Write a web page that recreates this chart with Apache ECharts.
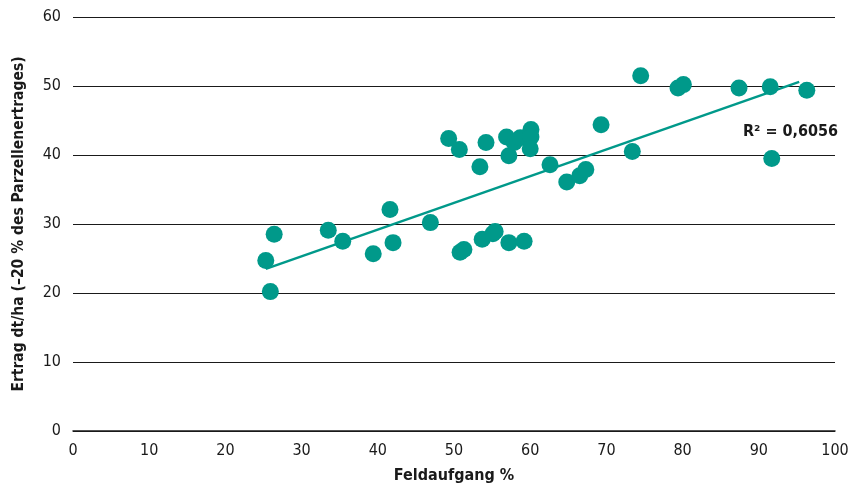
<!DOCTYPE html>
<html><head><meta charset="utf-8">
<script src="https://cdn.jsdelivr.net/npm/echarts@6/dist/echarts.min.js"></script>
<style>html,body{margin:0;padding:0;background:#fff}#c{width:855px;height:489px}</style>
</head><body><div id="c"></div>
<script>
const feldaufgang = [25.3,25.9,26.4,33.5,35.4,39.4,41.6,42.0,46.9,49.3,50.7,50.8,51.3,53.4,53.7,54.2,55.1,55.4,56.9,57.2,57.2,57.9,58.7,59.2,60.1,60.1,60.0,62.6,64.8,66.5,67.3,69.3,73.4,74.5,79.4,80.1,87.4,91.5,91.7,96.3];
const ertrag =      [24.7,20.2,28.5,29.1,27.5,25.7,32.1,27.3,30.2,42.4,40.8,25.9,26.3,38.3,27.8,41.8,28.6,28.9,42.6,39.9,27.3,41.8,42.5,27.5,43.7,42.6,40.9,38.6,36.1,37.0,37.9,44.4,40.5,51.5,49.7,50.2,49.7,49.9,39.5,49.4];
const trendX = [25.3, 95.3];
const trendY = [23.5, 50.6];
const xTicks = [0,10,20,30,40,50,60,70,80,90,100];
const yTicks = [0,10,20,30,40,50,60];
const r2Label = 'R² = 0,6056';
const FONT = '"Liberation Sans Narrow","DejaVu Sans Condensed","Liberation Sans",sans-serif';
const teal = '#00998a';
const chart = echarts.init(document.getElementById('c'));
chart.setOption({
  animation:false,
  grid:{left:73,right:20,top:17,bottom:57,containLabel:false},
  xAxis:{type:'value',min:xTicks[0],max:xTicks[xTicks.length-1],interval:10,
    name:'Feldaufgang %',nameLocation:'middle',nameGap:37,
    nameTextStyle:{fontFamily:FONT,fontWeight:'bold',fontSize:16,color:'#1a1a1a'},
    axisLine:{show:true,lineStyle:{color:'#1a1a1a',width:1.5}},axisTick:{show:false},
    axisLabel:{fontFamily:FONT,fontSize:16,color:'#1a1a1a',margin:12},
    splitLine:{show:false}},
  yAxis:{type:'value',min:yTicks[0],max:yTicks[yTicks.length-1],interval:10,
    name:'Ertrag dt/ha (–20 % des Parzellenertrages)',nameLocation:'middle',nameGap:46,
    nameTextStyle:{fontFamily:FONT,fontWeight:'bold',fontSize:15.5,color:'#1a1a1a'},
    axisLine:{show:false},axisTick:{show:false},
    axisLabel:{fontFamily:FONT,fontSize:16,color:'#1a1a1a',margin:12},
    splitLine:{show:true,lineStyle:{color:'#1a1a1a',width:1}}},
  series:[
    {type:'scatter',data:feldaufgang.map((x,i)=>[x,ertrag[i]]),symbolSize:17,
     itemStyle:{color:teal,opacity:1},z:3},
    {type:'line',data:trendX.map((x,i)=>[x,trendY[i]]),showSymbol:false,symbol:'none',
     lineStyle:{color:teal,width:2.5},z:4}
  ],
  graphic:[{type:'text',right:17,top:124,style:{text:r2Label,font:'bold 16px '+FONT,fill:'#1a1a1a'}}]
});
</script></body></html>
